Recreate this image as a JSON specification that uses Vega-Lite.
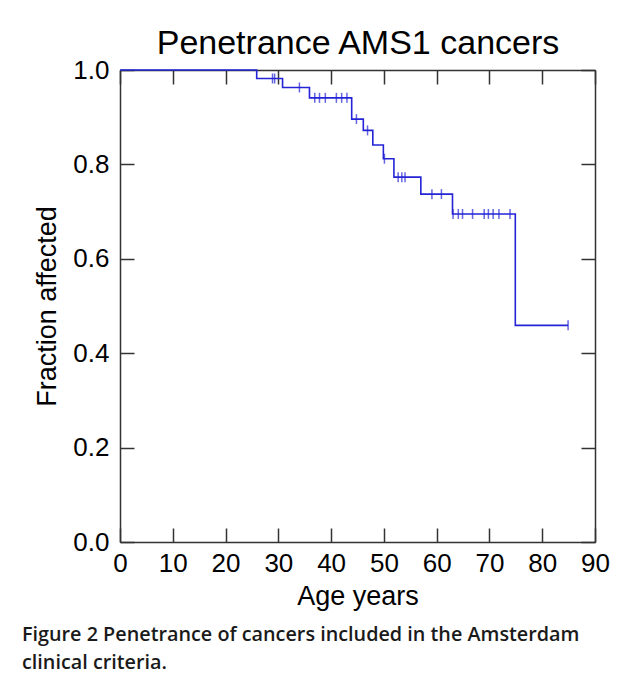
{
  "$schema": "https://vega.github.io/schema/vega-lite/v6.json",
  "width": 475,
  "height": 472,
  "autosize": "none",
  "padding": {"left": 120, "top": 70, "right": 34, "bottom": 138},
  "background": "white",
  "title": {
    "text": ["Figure 2 Penetrance of cancers included in the Amsterdam", "clinical criteria."],
    "orient": "bottom",
    "anchor": "start",
    "frame": "group",
    "align": "left",
    "dx": -98,
    "offset": 16,
    "font": "Open Sans",
    "fontSize": 19.8,
    "fontWeight": 600,
    "lineHeight": 28,
    "color": "#1a1a1a"
  },
  "datasets": {
    "steps": [
      {"age": 0, "fraction": 1.0},
      {"age": 25.9, "fraction": 0.982},
      {"age": 30.8, "fraction": 0.963},
      {"age": 35.9, "fraction": 0.941},
      {"age": 43.9, "fraction": 0.896},
      {"age": 46.1, "fraction": 0.872},
      {"age": 47.9, "fraction": 0.841},
      {"age": 49.9, "fraction": 0.812},
      {"age": 51.9, "fraction": 0.773},
      {"age": 57.0, "fraction": 0.737},
      {"age": 63.0, "fraction": 0.695},
      {"age": 74.9, "fraction": 0.459},
      {"age": 84.9, "fraction": 0.459}
    ],
    "censored": [
      {"age": 28.9, "fraction": 0.982},
      {"age": 29.3, "fraction": 0.982},
      {"age": 34.0, "fraction": 0.963},
      {"age": 36.9, "fraction": 0.941},
      {"age": 37.8, "fraction": 0.941},
      {"age": 38.9, "fraction": 0.941},
      {"age": 41.0, "fraction": 0.941},
      {"age": 42.0, "fraction": 0.941},
      {"age": 43.0, "fraction": 0.941},
      {"age": 44.8, "fraction": 0.896},
      {"age": 46.9, "fraction": 0.872},
      {"age": 50.1, "fraction": 0.812},
      {"age": 52.7, "fraction": 0.773},
      {"age": 53.4, "fraction": 0.773},
      {"age": 54.0, "fraction": 0.773},
      {"age": 59.1, "fraction": 0.737},
      {"age": 60.9, "fraction": 0.737},
      {"age": 63.1, "fraction": 0.695},
      {"age": 64.1, "fraction": 0.695},
      {"age": 64.9, "fraction": 0.695},
      {"age": 66.8, "fraction": 0.695},
      {"age": 69.0, "fraction": 0.695},
      {"age": 69.8, "fraction": 0.695},
      {"age": 70.7, "fraction": 0.695},
      {"age": 71.8, "fraction": 0.695},
      {"age": 73.9, "fraction": 0.695},
      {"age": 84.9, "fraction": 0.459}
    ]
  },
  "layer": [
    {
      "data": {"name": "steps"},
      "mark": {"type": "line", "interpolate": "step-after", "color": "#2424d6", "strokeWidth": 1.6},
      "encoding": {
        "x": {
          "field": "age", "type": "quantitative",
          "scale": {"domain": [0, 90], "nice": false, "zero": true},
          "axis": {
            "orient": "bottom",
            "values": [0, 10, 20, 30, 40, 50, 60, 70, 80, 90],
            "labelPadding": 22,
            "labelFlush": false,
            "labelOverlap": false,
            "title": "Age years",
            "titlePadding": 7
          }
        },
        "y": {
          "field": "fraction", "type": "quantitative",
          "scale": {"domain": [0, 1], "nice": false},
          "axis": {
            "orient": "left",
            "values": [0, 0.2, 0.4, 0.6, 0.8, 1.0],
            "format": ".1f",
            "labelPadding": 25,
            "labelFlush": false,
            "labelOverlap": false,
            "title": "Fraction affected",
            "titlePadding": 11
          }
        }
      }
    },
    {
      "data": {"name": "censored"},
      "mark": {"type": "tick", "orient": "vertical", "color": "#2424d6", "size": 10, "thickness": 1.5},
      "encoding": {
        "x": {
          "field": "age", "type": "quantitative",
          "scale": {"domain": [0, 90], "nice": false, "zero": true},
          "axis": {
            "orient": "top",
            "values": [0, 10, 20, 30, 40, 50, 60, 70, 80, 90],
            "labels": false,
            "title": "Penetrance AMS1 cancers",
            "titleFontSize": 34,
            "titlePadding": 9
          }
        },
        "y": {
          "field": "fraction", "type": "quantitative",
          "scale": {"domain": [0, 1], "nice": false},
          "axis": {
            "orient": "right",
            "values": [0, 0.2, 0.4, 0.6, 0.8, 1.0],
            "labels": false,
            "title": null
          }
        }
      }
    }
  ],
  "resolve": {"axis": {"x": "independent", "y": "independent"}},
  "config": {
    "view": {"stroke": null},
    "axis": {
      "domainColor": "#333333",
      "domainWidth": 1.5,
      "tickColor": "#333333",
      "tickWidth": 1.5,
      "tickSize": -14,
      "grid": false,
      "labelFont": "Liberation Sans",
      "labelFontSize": 26,
      "labelColor": "#000000",
      "titleFont": "Liberation Sans",
      "titleFontSize": 27,
      "titleFontWeight": "normal",
      "titleColor": "#000000"
    }
  }
}
